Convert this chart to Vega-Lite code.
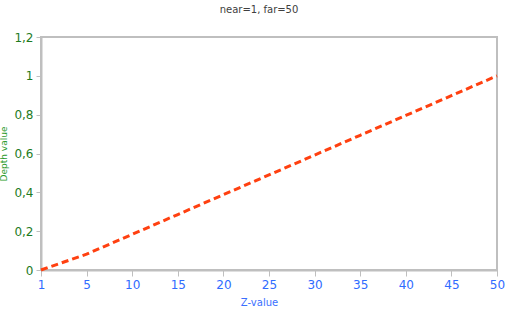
{
  "$schema": "https://vega.github.io/schema/vega-lite/v6.json",
  "width": 456,
  "height": 233,
  "autosize": {"type": "none"},
  "padding": {"left": 41, "top": 37, "right": 28, "bottom": 44},
  "background": "white",
  "title": {
    "text": "near=1, far=50",
    "fontSize": 10,
    "font": "DejaVu Sans",
    "fontWeight": "normal",
    "color": "#404040",
    "offset": 16,
    "dx": -10
  },
  "config": {
    "view": {"stroke": "#bfbfbf", "strokeWidth": 2},
    "axis": {"grid": false, "domainColor": "#bfbfbf", "tickColor": "#bfbfbf", "domainWidth": 2, "tickWidth": 1, "labelFont": "DejaVu Sans", "titleFont": "DejaVu Sans"}
  },
  "data": {
    "values": [
      {"z": "1", "depth": 0},
      {"z": "5", "depth": 0.0816},
      {"z": "10", "depth": 0.1837},
      {"z": "15", "depth": 0.2857},
      {"z": "20", "depth": 0.3878},
      {"z": "25", "depth": 0.4898},
      {"z": "30", "depth": 0.5918},
      {"z": "35", "depth": 0.6939},
      {"z": "40", "depth": 0.7959},
      {"z": "45", "depth": 0.898},
      {"z": "50", "depth": 1.0}
    ]
  },
  "mark": {"type": "line", "color": "#ff4010", "strokeWidth": 3, "strokeDash": [7, 4]},
  "encoding": {
    "x": {
      "field": "z",
      "type": "ordinal",
      "sort": null,
      "scale": {"type": "point", "padding": 0},
      "axis": {
        "title": "Z-value",
        "titleColor": "#3a6fff",
        "titleFontSize": 10,
        "titleFontWeight": "normal",
        "titlePadding": 7,
        "titleX": 218,
        "labelColor": "#2f6bff",
        "labelFontSize": 12,
        "labelAngle": 0,
        "labelPadding": 3,
        "tickSize": 6
      }
    },
    "y": {
      "field": "depth",
      "type": "quantitative",
      "scale": {"domain": [0, 1.2], "nice": false},
      "axis": {
        "title": "Depth value",
        "titleColor": "#2a9a2a",
        "titleFontSize": 9,
        "titleFontWeight": "normal",
        "titlePadding": 5,
        "labelColor": "#1e7b1e",
        "labelFontSize": 12,
        "values": [0, 0.2, 0.4, 0.6, 0.8, 1, 1.2],
        "labelExpr": "replace(format(datum.value, '~g'), '.', ',')",
        "tickSize": 5,
        "labelPadding": 3
      }
    }
  }
}
